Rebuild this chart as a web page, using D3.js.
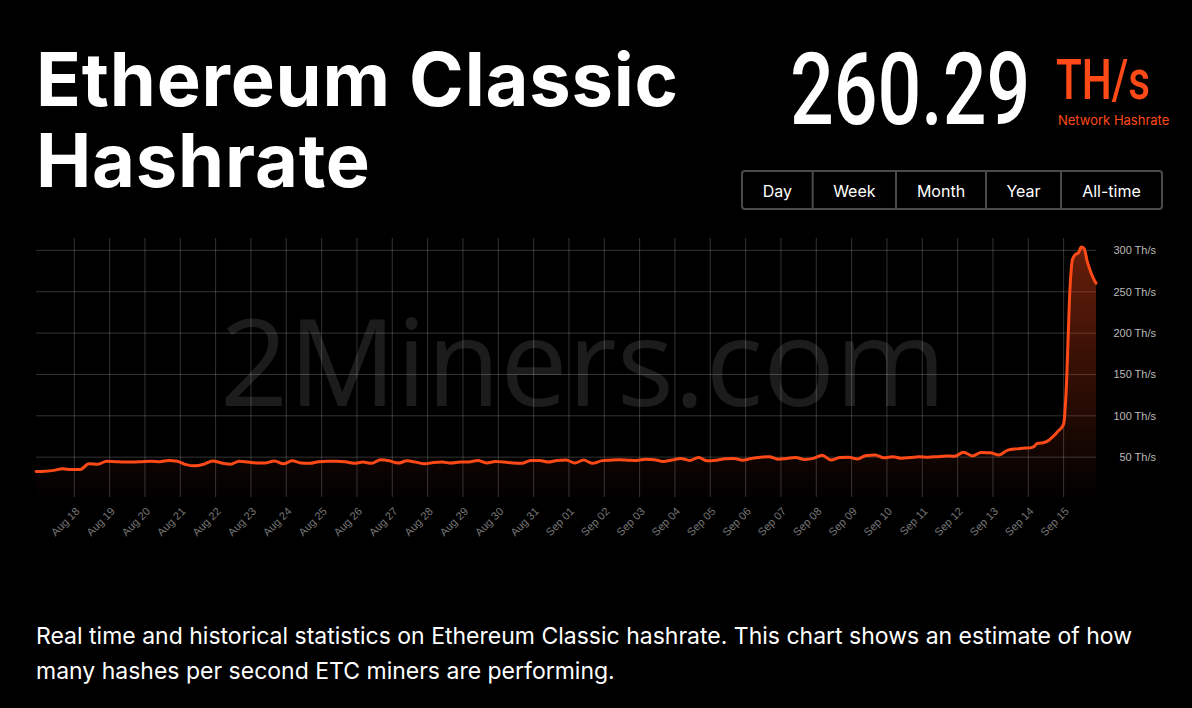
<!DOCTYPE html>
<html>
<head>
<meta charset="utf-8">
<script src="https://cdn.jsdelivr.net/npm/d3@7"></script>
<style>
  html, body { margin: 0; padding: 0; background: #000; }
  svg { display: block; }
</style>
</head>
<body>
<svg id="chart" width="1192" height="708"></svg>
<script>
// ---- Data ----
const titleLines = ["Ethereum Classic", "Hashrate"];
const currentValue = "260.29";
const currentUnit = "TH/s";
const currentLabel = "Network Hashrate";
const rangeButtons = ["Day", "Week", "Month", "Year", "All-time"];
const descriptionLines = [
  "Real time and historical statistics on Ethereum Classic hashrate. This chart shows an estimate of how",
  "many hashes per second ETC miners are performing."
];
const watermark = "2Miners.com";

// 6-hourly samples (TH/s) starting 2022-08-16 22:00 UTC
const sixHourlyStart = Date.UTC(2022, 7, 16, 22);
const sixHourlyValues = [
  32.6, 33, 34, 36,
  35, 35, 42, 41.5,
  45, 44.5, 44, 44,
  44.5, 45, 44.5, 46,
  45, 41, 39.5, 41.5,
  45.4, 43, 41.5, 45,
  44, 43, 43, 45.4,
  42, 45.5, 43, 42.5,
  44.5, 45, 45, 44.5,
  42.7, 44, 42.5, 46.8,
  45.6, 42.8, 45.5, 44,
  42, 43.5, 44, 42.8,
  44, 44.2, 46, 43,
  44.8, 44, 43, 42.5,
  46, 46, 44, 46,
  46.5, 43, 46.5, 42.5,
  45.5, 46.3, 46.8, 46.4,
  46, 47.5, 47, 44.8,
  46.5, 48.5, 46, 49.5,
  45.5, 46.2, 48, 48.5,
  46.3, 48.5, 50, 50.5,
  47.6, 48.5, 49.5, 47.2,
  48.5, 52.4, 46.5, 49.5,
  49.8, 47.9, 52, 52.5,
  49.2, 50.6, 48.6, 49.5,
  50.5, 50, 50.6, 51.3,
  51.2, 56, 51.5, 55.5,
  55.4, 52.5, 58.5, 60,
  61
];
// 2-hourly samples (TH/s) starting 2022-09-14 00:00 UTC
const twoHourlyStart = Date.UTC(2022, 8, 14, 0);
const twoHourlyValues = [
  61, 61.5, 63, 66.5, 67, 67.5, 68.5, 70.5, 73.5, 77, 81, 84.5,
  90, 140, 242, 289, 295, 297, 304, 302, 287, 276, 267, 260.29
];
const yTicks = [50, 100, 150, 200, 250, 300];
const xTickStart = Date.UTC(2022, 7, 18);
const xTickEnd = Date.UTC(2022, 8, 15);
const domainStart = Date.UTC(2022, 7, 16, 22);
const domainEnd = Date.UTC(2022, 8, 15, 22);

const H = 3600 * 1000;
const points = sixHourlyValues.map((v, i) => ({ t: new Date(sixHourlyStart + i * 6 * H), v }))
  .concat(twoHourlyValues.map((v, i) => ({ t: new Date(twoHourlyStart + i * 2 * H), v })));

// ---- Layout ----
const orange = "#ff4a17";
const svg = d3.select("#chart");
const plot = { left: 36, right: 1096, top: 238, bottom: 497 };

const x = d3.scaleUtc().domain([new Date(domainStart), new Date(domainEnd)]).range([plot.left, plot.right]);
const y = d3.scaleLinear().domain([0, 315]).range([498.5, 238]);

// background
svg.append("rect").attr("width", 1192).attr("height", 708).attr("fill", "#000");

// title
const title = svg.append("text")
  .attr("font-family", "Inter, 'Noto Sans', sans-serif")
  .attr("font-weight", 700)
  .attr("font-size", 74)
  .attr("fill", "#fff")
  .attr("letter-spacing", "0.8");
title.selectAll("tspan").data(titleLines).join("tspan")
  .attr("x", 36)
  .attr("y", (d, i) => 106 + i * 81)
  .text(d => d);

// big value (condensed)
svg.append("text")
  .attr("transform", "translate(790,123.5) scale(0.77,1)")
  .attr("font-family", "Roboto, sans-serif")
  .attr("font-weight", 500)
  .attr("font-size", 100)
  .attr("fill", "#fff")
  .text(currentValue);
svg.append("text")
  .attr("transform", "translate(1056,98.5) scale(0.77,1)")
  .attr("font-family", "Roboto, sans-serif")
  .attr("font-weight", 500)
  .attr("font-size", 55)
  .attr("fill", orange)
  .text(currentUnit);
svg.append("text")
  .attr("x", 1058).attr("y", 125)
  .attr("font-family", "Inter, Roboto, sans-serif")
  .attr("font-size", 13)
  .attr("fill", orange)
  .text(currentLabel);

// range buttons
const btnX = [742, 812.7, 896, 986, 1061, 1162];
const btnTop = 171, btnH = 38;
const btnG = svg.append("g");
btnG.append("rect")
  .attr("x", btnX[0]).attr("y", btnTop)
  .attr("width", btnX[5] - btnX[0]).attr("height", btnH)
  .attr("rx", 3)
  .attr("fill", "#000").attr("stroke", "#4a4a4a").attr("stroke-width", 2);
btnG.selectAll("line").data(btnX.slice(1, 5)).join("line")
  .attr("x1", d => d).attr("x2", d => d)
  .attr("y1", btnTop).attr("y2", btnTop + btnH)
  .attr("stroke", "#4a4a4a").attr("stroke-width", 2);
btnG.selectAll("text").data(rangeButtons).join("text")
  .attr("x", (d, i) => (btnX[i] + btnX[i + 1]) / 2)
  .attr("y", 197)
  .attr("text-anchor", "middle")
  .attr("font-family", "Inter, Roboto, sans-serif")
  .attr("font-size", 16)
  .attr("fill", "#fff")
  .text(d => d);

// watermark
svg.append("text")
  .attr("x", 583).attr("y", 406)
  .attr("text-anchor", "middle")
  .attr("font-family", "'Open Sans', 'Noto Sans', sans-serif")
  .attr("font-size", 120)
  .attr("fill", "#1c1c1c")
  .text(watermark);

// grid
const gridColor = "rgba(255,255,255,0.2)";
const dayTicks = d3.utcDay.range(new Date(xTickStart), new Date(xTickEnd + 1));
svg.append("g").selectAll("line").data(dayTicks).join("line")
  .attr("x1", d => x(d)).attr("x2", d => x(d))
  .attr("y1", plot.top).attr("y2", plot.bottom)
  .attr("stroke", gridColor).attr("stroke-width", 1);
svg.append("g").selectAll("line").data(yTicks).join("line")
  .attr("x1", plot.left).attr("x2", plot.right)
  .attr("y1", d => y(d)).attr("y2", d => y(d))
  .attr("stroke", gridColor).attr("stroke-width", 1);

// axis labels
const fmt = d3.utcFormat("%b %d");
svg.append("g").selectAll("text").data(dayTicks).join("text")
  .attr("transform", d => `translate(${x(d) + 6},512) rotate(-45)`)
  .attr("text-anchor", "end")
  .attr("font-family", "'Liberation Sans', Arial, sans-serif")
  .attr("font-size", 11)
  .attr("fill", "#777")
  .text(d => fmt(d));
svg.append("g").selectAll("text").data(yTicks).join("text")
  .attr("x", 1156).attr("y", d => y(d))
  .attr("dy", "0.35em")
  .attr("text-anchor", "end")
  .attr("font-family", "'Liberation Sans', Arial, sans-serif")
  .attr("font-size", 11)
  .attr("fill", "#bbb")
  .text(d => d + " Th/s");

// area + line
const defs = svg.append("defs");
const grad = defs.append("linearGradient").attr("id", "fillGrad")
  .attr("gradientUnits", "userSpaceOnUse")
  .attr("x1", 0).attr("x2", 0).attr("y1", 238).attr("y2", 498);
grad.append("stop").attr("offset", 0).attr("stop-color", orange).attr("stop-opacity", 0.42);
grad.append("stop").attr("offset", 1).attr("stop-color", orange).attr("stop-opacity", 0);

const area = d3.area().x(d => x(d.t)).y0(y(0)).y1(d => y(d.v)).curve(d3.curveMonotoneX);
const line = d3.line().x(d => x(d.t)).y(d => y(d.v)).curve(d3.curveMonotoneX);
svg.append("path").datum(points).attr("d", area).attr("fill", "url(#fillGrad)");
svg.append("path").datum(points).attr("d", line)
  .attr("fill", "none").attr("stroke", orange).attr("stroke-width", 3)
  .attr("stroke-linejoin", "round").attr("stroke-linecap", "round");

// description
const desc = svg.append("text")
  .attr("font-family", "Inter, Roboto, sans-serif")
  .attr("font-size", 23)
  .attr("fill", "#fff");
desc.selectAll("tspan").data(descriptionLines).join("tspan")
  .attr("x", 36)
  .attr("y", (d, i) => 644 + i * 35)
  .text(d => d);
</script>
</body>
</html>
